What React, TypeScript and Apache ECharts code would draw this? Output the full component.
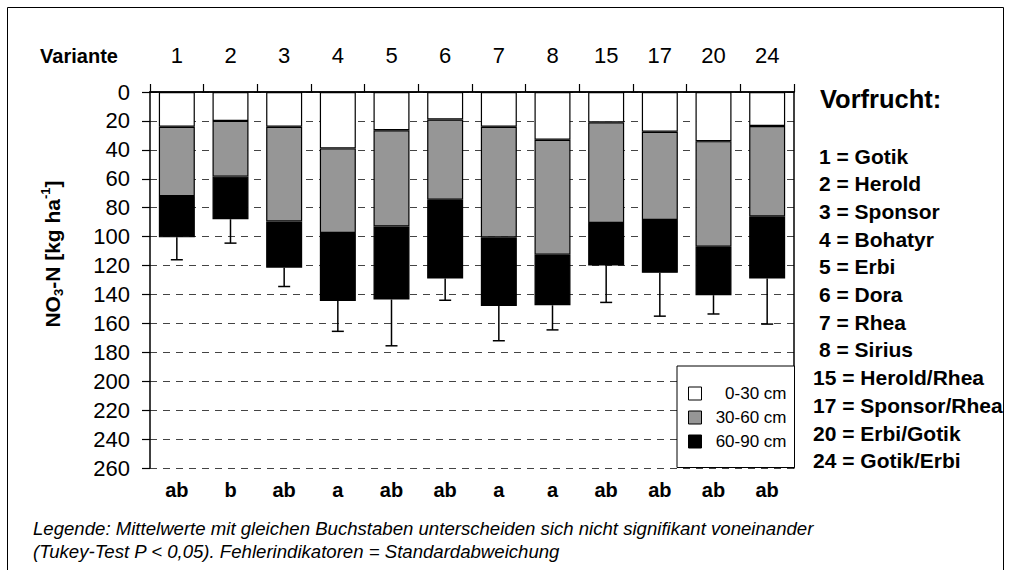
import React, { useEffect, useRef } from "react";
import * as echarts from "echarts";

const categories = ["1", "2", "3", "4", "5", "6", "7", "8", "15", "17", "20", "24"];
const layer0to30 = [24, 20, 24, 39, 26.5, 19, 24, 33, 21, 27.5, 34, 23.5];
const layer30to60 = [48, 38.5, 65.5, 58.5, 66.5, 55.5, 76.5, 79.5, 69.5, 61, 73, 62.5];
const layer60to90 = [28.5, 29.5, 32, 47, 50.5, 54.5, 47.5, 35, 29.5, 36.5, 33.5, 43];
const stdDev = [15.5, 16.5, 13, 21, 32, 15, 24, 17, 25.5, 30, 13, 31.5];
const tukeyLetters = ["ab", "b", "ab", "a", "ab", "ab", "a", "a", "ab", "ab", "ab", "ab"];
const vorfrucht = [
  "Gotik", "Herold", "Sponsor", "Bohatyr", "Erbi", "Dora", "Rhea", "Sirius",
  "Herold/Rhea", "Sponsor/Rhea", "Erbi/Gotik", "Gotik/Erbi",
];
const layerNames = ["0-30 cm", "30-60 cm", "60-90 cm"];
const layerColors = ["#ffffff", "#969696", "#000000"];
const yMin = 0;
const yMax = 260;
const yInterval = 20;
const footnote = [
  "Legende: Mittelwerte mit gleichen Buchstaben unterscheiden sich nicht signifikant voneinander",
  "(Tukey-Test P < 0,05). Fehlerindikatoren = Standardabweichung",
];

const FONT = '"Liberation Sans", Arial, sans-serif';

export default function App() {
  const ref = useRef<HTMLDivElement>(null);

  useEffect(() => {
    if (!ref.current) return;
    const chart = echarts.init(ref.current, null, { renderer: "svg" });
    const layers = [layer0to30, layer30to60, layer60to90];
    const totals = categories.map((_, i) => layer0to30[i] + layer30to60[i] + layer60to90[i]);

    const barSeries = layers.map((vals, k) => ({
      name: layerNames[k],
      type: "bar",
      stack: "depth",
      barWidth: 36,
      xAxisIndex: 0,
      yAxisIndex: 0,
      data: vals,
      itemStyle: { color: layerColors[k], borderColor: "#000", borderWidth: 1.2 },
      z: 2,
    }));

    const errorSeries = {
      type: "custom",
      xAxisIndex: 0,
      yAxisIndex: 0,
      z: 3,
      encode: { x: 0, y: 1 },
      data: categories.map((_, i) => [i, totals[i], stdDev[i]]),
      renderItem: (params: any, api: any) => {
        const i = api.value(0);
        const t = api.value(1);
        const sd = api.value(2);
        const p0 = api.coord([i, t]);
        const p1 = api.coord([i, t + sd]);
        const st = { stroke: "#000", lineWidth: 1.5 };
        return {
          type: "group",
          children: [
            { type: "line", shape: { x1: p0[0], y1: p0[1], x2: p1[0], y2: p1[1] }, style: st },
            { type: "line", shape: { x1: p1[0] - 6, y1: p1[1], x2: p1[0] + 6, y2: p1[1] }, style: st },
          ],
        };
      },
    };

    const graphics: any[] = [
      {
        type: "polyline",
        shape: { points: [[7.5, 570], [7.5, 7.5], [1003.5, 7.5], [1003.5, 570]] },
        style: { stroke: "#000", lineWidth: 1, fill: null },
        silent: true,
      },
      {
        type: "text",
        x: 79,
        y: 56,
        style: { text: "Variante", font: `bold 20px ${FONT}`, fill: "#000", align: "center", verticalAlign: "middle" },
      },
      {
        type: "text",
        x: 52,
        y: 254,
        rotation: Math.PI / 2,
        style: {
          text: "{b|NO}{sub|3}{b|-N [kg ha}{sup|-1}{b|]}",
          align: "center",
          verticalAlign: "middle",
          fill: "#000",
          rich: {
            b: { fontSize: 21, fontWeight: "bold", fontFamily: FONT, lineHeight: 26, fill: "#000" },
            sub: { fontSize: 13, fontWeight: "bold", fontFamily: FONT, lineHeight: 26, verticalAlign: "bottom", fill: "#000" },
            sup: { fontSize: 13, fontWeight: "bold", fontFamily: FONT, lineHeight: 26, verticalAlign: "top", fill: "#000" },
          },
        },
      },
      {
        type: "text",
        x: 820,
        y: 99,
        style: { text: "Vorfrucht:", font: `bold 25.5px ${FONT}`, fill: "#000", verticalAlign: "middle" },
      },
      ...categories.map((c, i) => ({
        type: "text",
        x: c.length > 1 ? 813 : 819,
        y: 156 + i * 27.7,
        style: { text: `${c} = ${vorfrucht[i]}`, font: `bold 21px ${FONT}`, fill: "#000", verticalAlign: "middle" },
      })),
      ...footnote.map((line, i) => ({
        type: "text",
        x: 33,
        y: 528 + i * 23,
        style: { text: line, font: `italic 18.6px ${FONT}`, fill: "#000", verticalAlign: "middle" },
      })),
    ];

    chart.setOption({
      animation: false,
      backgroundColor: "#fff",
      textStyle: { fontFamily: FONT },
      grid: { left: 150, top: 92, width: 644, height: 376, containLabel: false },
      legend: {
        data: layerNames,
        orient: "vertical",
        left: 677,
        top: 366,
        selectedMode: false,
        backgroundColor: "#fff",
        borderColor: "#000",
        borderWidth: 1,
        padding: [19, 8, 17.5, 11],
        itemWidth: 13,
        itemHeight: 13,
        itemGap: 7,
        icon: "rect",
        itemStyle: { borderColor: "#000", borderWidth: 1 },
        formatter: (name: string) => `{r|${name}}`,
        textStyle: {
          color: "#000",
          fontSize: 17,
          rich: { r: { width: 80, align: "right", fontSize: 17, fontFamily: FONT, color: "#000" } },
        },
        z: 10,
      },
      xAxis: [
        {
          type: "category",
          position: "top",
          data: categories,
          axisLine: { show: true, lineStyle: { color: "#000", width: 1.5 } },
          axisTick: { show: true, length: 8, lineStyle: { color: "#000", width: 1.2 } },
          axisLabel: { fontSize: 22, color: "#000", margin: 26, fontFamily: FONT },
          splitLine: { show: false },
        },
        {
          type: "category",
          position: "bottom",
          data: categories,
          axisLine: { show: true, lineStyle: { color: "#000", width: 1.5 } },
          axisTick: { show: false },
          axisLabel: {
            fontSize: 20,
            fontWeight: "bold",
            color: "#000",
            margin: 12,
            fontFamily: FONT,
            formatter: (_v: string, idx: number) => tukeyLetters[idx],
          },
          splitLine: { show: false },
        },
      ],
      yAxis: [
        {
          type: "value",
          inverse: true,
          min: yMin,
          max: yMax,
          interval: yInterval,
          axisLine: { show: true, lineStyle: { color: "#000", width: 1.5 } },
          axisTick: { show: true, length: 8, lineStyle: { color: "#000", width: 1.2 } },
          axisLabel: { fontSize: 22, color: "#000", margin: 20, fontFamily: FONT },
          splitLine: { show: true, lineStyle: { type: [7, 6], color: "#444", width: 1 } },
        },
        {
          type: "value",
          position: "right",
          inverse: true,
          min: yMin,
          max: yMax,
          interval: yInterval,
          axisLine: { show: true, lineStyle: { color: "#000", width: 1.5 } },
          axisTick: { show: false },
          axisLabel: { show: false },
          splitLine: { show: false },
        },
      ],
      series: [...barSeries, errorSeries],
      graphic: graphics,
    });

    return () => chart.dispose();
  }, []);

  return (
    <div
      ref={ref}
      style={{ position: "fixed", left: 0, top: 0, width: 1009, height: 570, background: "#fff" }}
    />
  );
}
